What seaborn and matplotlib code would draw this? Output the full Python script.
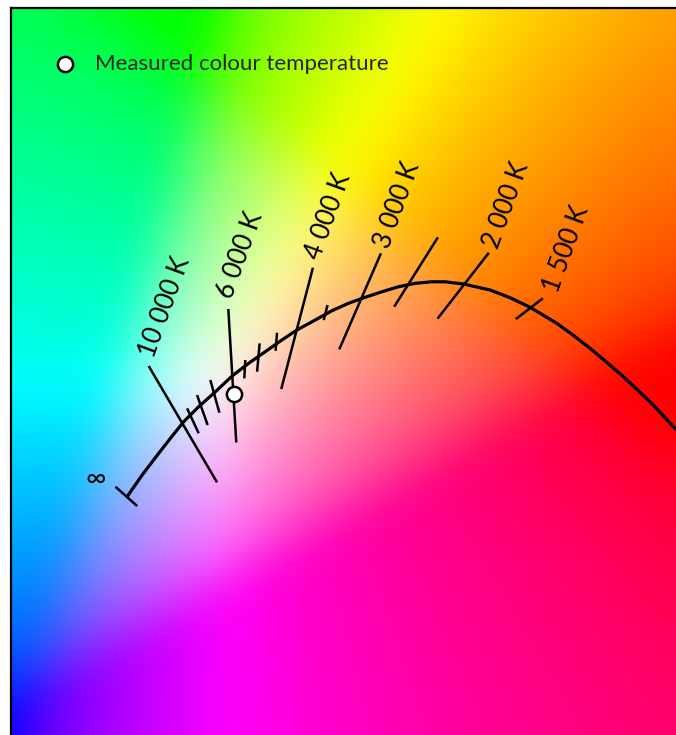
import numpy as np
import pandas as pd
import matplotlib
matplotlib.use("Agg")
import matplotlib.pyplot as plt
import seaborn as sns

# Planckian locus (CIE 1931 x, y), from infinity down to the red end
locus_x = [0.2399, 0.2527, 0.2668, 0.2768, 0.2881, 0.3009, 0.3151, 0.3293, 0.3434,
           0.3576, 0.3718, 0.3846, 0.4002, 0.4144, 0.4285, 0.4427, 0.4569, 0.4711,
           0.4853, 0.4995, 0.5108, 0.5264, 0.5491, 0.5662, 0.5832, 0.6059, 0.6200,
           0.6342, 0.6485, 0.6626, 0.6754, 0.6881, 0.6981, 0.7074, 0.7193]
locus_y = [0.2328, 0.2512, 0.2697, 0.2825, 0.2966, 0.3094, 0.3221, 0.3355, 0.3463,
           0.3562, 0.3662, 0.3747, 0.3832, 0.3911, 0.3974, 0.4025, 0.4072, 0.4115,
           0.4144, 0.4157, 0.4157, 0.4138, 0.4087, 0.4021, 0.3940, 0.3803, 0.3701,
           0.3591, 0.3471, 0.3349, 0.3230, 0.3108, 0.3000, 0.2901, 0.2776]

# isotherm segments (upper end -> lower end)
iso_temp = ['inf', '10000', '9000', '8000', '7000', '6000', '5500', '5000', '4500',
            '4000', '3500', '3000', '2500', '2000', '1500']
iso_x0 = [0.2300, 0.2583, 0.2910, 0.2995, 0.3108, 0.3261, 0.3406, 0.3528, 0.3676,
          0.3982, 0.4106, 0.4561, 0.5046, 0.5480, 0.5940]
iso_y0 = [0.2413, 0.3440, 0.3080, 0.3193, 0.3321, 0.3925, 0.3491, 0.3633, 0.3723,
          0.4277, 0.3959, 0.4399, 0.4535, 0.4404, 0.4016]
iso_x1 = [0.2484, 0.3165, 0.3009, 0.3085, 0.3185, 0.3329, 0.3397, 0.3506, 0.3664,
          0.3712, 0.4074, 0.4206, 0.4674, 0.5043, 0.5710]
iso_y1 = [0.2249, 0.2450, 0.2867, 0.2938, 0.3043, 0.2789, 0.3335, 0.3391, 0.3570,
          0.3244, 0.3831, 0.3582, 0.3945, 0.3843, 0.3840]

# labels
label_text = ['10 000 K', '6 000 K', '4 000 K', '3 000 K', '2 000 K', '1 500 K']
label_x = [0.2717, 0.3363, 0.4113, 0.4700, 0.5628, 0.6142]
label_y = [0.3942, 0.4385, 0.4712, 0.4810, 0.4806, 0.4431]
inf_x, inf_y = 0.2135, 0.2476

# measured point
meas_x = [0.3312]
meas_y = [0.3202]

xmin, xmax = 0.1406, 0.7074
ymin, ymax = 0.0300, 0.6487

sns.set_theme(style="white")
plt.rcParams['font.family'] = ['Lato', 'DejaVu Sans']

fig = plt.figure(figsize=(6.76, 7.35), dpi=100)
ax = fig.add_axes([10.5 / 676, 0, 665.5 / 676, 727 / 735])

# chromaticity background: xy -> XYZ -> linear sRGB, scaled so the largest channel is 1
gx, gy = np.meshgrid(np.linspace(xmin, xmax, 666), np.linspace(ymin, ymax, 727))
X = gx / gy
Z = (1 - gx - gy) / gy
M = np.array([[3.2406, -1.5372, -0.4986],
              [-0.9689, 1.8758, 0.0415],
              [0.0557, -0.2040, 1.0570]])
rgb = np.stack([M[i, 0] * X + M[i, 1] + M[i, 2] * Z for i in range(3)], axis=-1)
rgb = np.clip(rgb, 0, None)
rgb = rgb / rgb.max(axis=-1, keepdims=True)
rgb = np.where(rgb <= 0.0031308, 12.92 * rgb, 1.055 * rgb ** (1 / 2.4) - 0.055)

# soften the hard hue seams
sigma = 22
k = np.exp(-0.5 * (np.arange(-3 * sigma, 3 * sigma + 1) / sigma) ** 2)
k /= k.sum()
pad = 3 * sigma
big = np.pad(rgb, ((pad, pad), (pad, pad), (0, 0)), mode='edge')
big = np.apply_along_axis(lambda v: np.convolve(v, k, mode='same'), 0, big)
big = np.apply_along_axis(lambda v: np.convolve(v, k, mode='same'), 1, big)
rgb = np.clip(big[pad:-pad, pad:-pad], 0, 1)

ax.imshow(rgb, extent=(xmin, xmax, ymin, ymax), origin='lower', aspect='auto',
          interpolation='bilinear', zorder=0)

locus = pd.DataFrame({'x': locus_x, 'y': locus_y})
sns.lineplot(data=locus, x='x', y='y', sort=False, color='black', lw=2.3, ax=ax, zorder=3)

for t, x0, y0, x1, y1 in zip(iso_temp, iso_x0, iso_y0, iso_x1, iso_y1):
    ax.plot([x0, x1], [y0, y1], color='black', lw=1.8, solid_capstyle='butt', zorder=3)

for s, x, y in zip(label_text, label_x, label_y):
    ax.text(x, y, s, rotation=70, ha='center', va='center', rotation_mode='anchor',
            fontsize=18.5, color='black', zorder=4)
ax.text(inf_x, inf_y, '\u221e', ha='center', va='center', fontsize=20, color='black', zorder=4)

sns.scatterplot(x=meas_x, y=meas_y, s=120, color='white', edgecolor='black', linewidth=1.8,
                label='Measured colour temperature', ax=ax, zorder=5)
ax.legend(loc='center left', bbox_to_anchor=(0.0652, 0.923), frameon=False, fontsize=16,
          handlelength=1.0, handletextpad=0.85, borderpad=0, borderaxespad=0)

ax.set_xlim(xmin, xmax)
ax.set_ylim(ymin, ymax)
ax.set_xticks([])
ax.set_yticks([])
ax.set_xlabel('')
ax.set_ylabel('')
for side in ['right', 'bottom']:
    ax.spines[side].set_visible(False)
for side in ['left', 'top']:
    ax.spines[side].set_color('black')
    ax.spines[side].set_linewidth(1.6)

fig.savefig('out.png', dpi=100)
